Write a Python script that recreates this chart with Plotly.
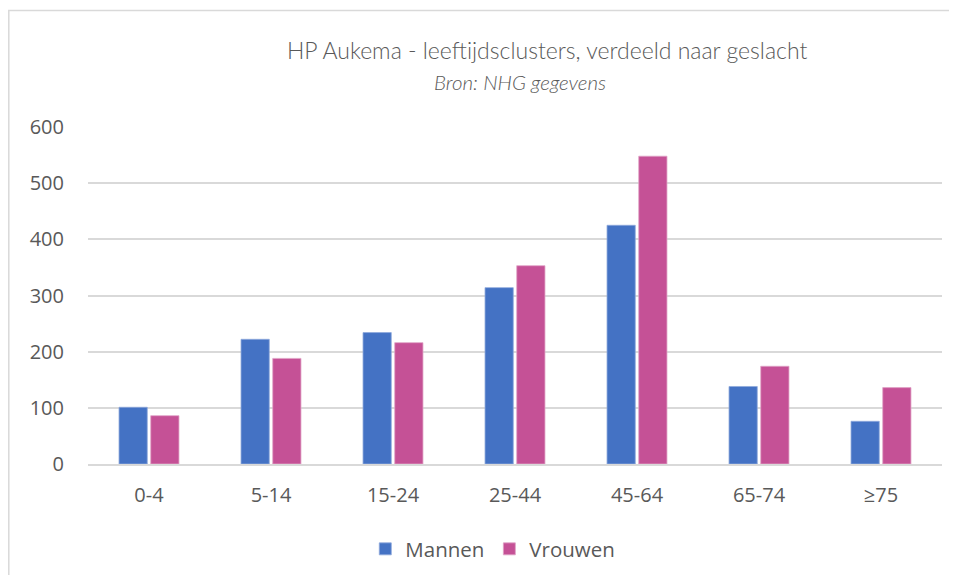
import plotly.graph_objects as go

categories = ["0-4", "5-14", "15-24", "25-44", "45-64", "65-74", "≥75"]
mannen = [101, 222, 234, 314, 425, 138, 76]
vrouwen = [86, 188, 216, 353, 548, 174, 136]
y_ticks = [0, 100, 200, 300, 400, 500, 600]

TICK_FONT = "'Open Sans', 'Noto Sans', sans-serif"
TITLE_FONT = "Lato, 'Open Sans', sans-serif"
TXT = "#595959"

fig = go.Figure()
fig.add_trace(go.Bar(x=categories, y=mannen, name="Mannen",
                     marker=dict(color="#4472C4", line=dict(color="#8FAADC", width=0.8))))
fig.add_trace(go.Bar(x=categories, y=vrouwen, name="Vrouwen",
                     marker=dict(color="#C55196", line=dict(color="#E0A3C6", width=0.8))))

# page body has an 8px margin; work in figure coordinates
OFF = 8
W, H = 957 - OFF, 575 - OFF
L, R, T, B = 88 - OFF, 942 - OFF, 127 - OFF, 464 - OFF
fig.update_layout(
    width=W, height=H,
    margin=dict(l=L, r=W - R, t=T, b=H - B, autoexpand=False),
    paper_bgcolor="white", plot_bgcolor="white",
    barmode="group", bargap=0.48, bargroupgap=0.11,
    font=dict(family=TICK_FONT, color=TXT, size=18),
    showlegend=True,
    legend=dict(orientation="h", x=0.474, xanchor="center", y=-0.193, yanchor="top",
                font=dict(size=20.5, color=TXT, family=TICK_FONT), itemwidth=30,
                traceorder="normal"),
    xaxis=dict(showgrid=False, showline=True, linecolor="#D9D9D9", linewidth=2,
               ticks="", tickfont=dict(size=20, color=TXT), ticklabelstandoff=12,
               automargin=False),
    yaxis=dict(range=[0, 600], tickvals=y_ticks, showgrid=True, gridcolor="#D9D9D9",
               gridwidth=1.5, zeroline=False, showline=False, ticks="",
               tickfont=dict(size=20, color=TXT), ticklabelstandoff=23,
               automargin=False),
)

fig.add_annotation(text="HP Aukema - leeftijdsclusters, verdeeld naar geslacht",
                   xref="paper", yref="paper", x=(547 - OFF - L) / (R - L),
                   y=(B - (50 - OFF)) / (B - T),
                   xanchor="center", yanchor="middle", showarrow=False,
                   font=dict(size=23, color=TXT, family=TITLE_FONT, weight=300))
fig.add_annotation(text="<i>Bron: NHG gegevens</i>",
                   xref="paper", yref="paper", x=(520 - OFF - L) / (R - L),
                   y=(B - (82 - OFF)) / (B - T),
                   xanchor="center", yanchor="middle", showarrow=False,
                   font=dict(size=20.5, color=TXT, family=TITLE_FONT, weight=300))

# outer chart border
fig.add_shape(type="rect", xref="paper", yref="paper",
              x0=(0.8 - L) / (R - L), x1=(W + 40 - L) / (R - L),
              y0=(B - (H + 40)) / (B - T), y1=(B - 2.5) / (B - T),
              line=dict(color="#D9D9D9", width=1.5), fillcolor="rgba(0,0,0,0)", layer="below")

fig.write_html("out.html")
